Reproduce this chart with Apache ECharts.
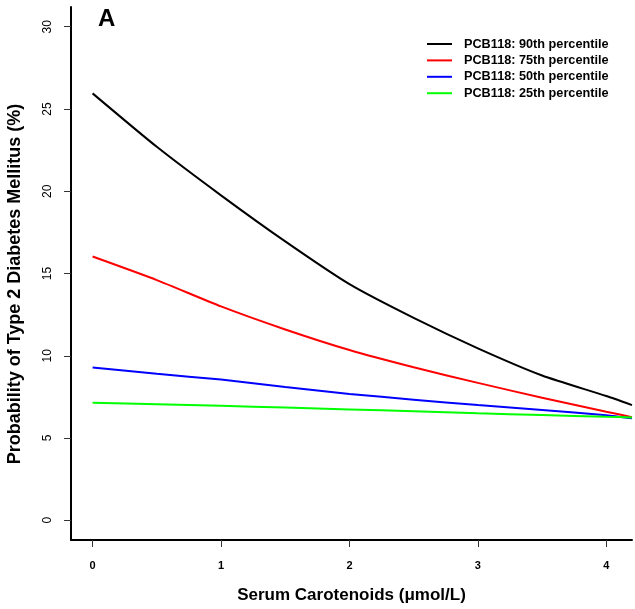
<!DOCTYPE html>
<html>
<head>
<meta charset="utf-8">
<script src="https://cdn.jsdelivr.net/npm/echarts@6/dist/echarts.min.js"></script>
<style>
html,body{margin:0;padding:0;background:#fff;}
#chart{width:635px;height:609px;}
</style>
</head>
<body>
<div id="chart"></div>
<script>
var carotenoids = [0, 0.5, 1, 1.5, 2, 2.5, 3, 3.5, 4, 4.2];
var p90 = [25.95, 22.7, 19.75, 16.95, 14.35, 12.3, 10.45, 8.8, 7.55, 7.0];
var p75 = [16.03, 14.6, 13.0, 11.6, 10.35, 9.3, 8.35, 7.45, 6.6, 6.27];
var p50 = [9.29, 8.9, 8.55, 8.1, 7.68, 7.33, 7.0, 6.7, 6.39, 6.2];
var p25 = [7.14, 7.05, 6.96, 6.85, 6.74, 6.62, 6.5, 6.4, 6.29, 6.25];
var seriesNames = ['PCB118: 90th percentile', 'PCB118: 75th percentile', 'PCB118: 50th percentile', 'PCB118: 25th percentile'];
var seriesColors = ['#000000', '#ff0000', '#0000ff', '#00ff00'];
var xTicks = [0, 1, 2, 3, 4];
var yTicks = [0, 5, 10, 15, 20, 25, 30];
var xTitle = 'Serum Carotenoids (\u03bcmol/L)';
var yTitle = 'Probability of Type 2 Diabetes Mellitus (%)';

var FONT = 'Arial, "Liberation Sans", sans-serif';
function pairs(ys){ return carotenoids.map(function(x,i){ return [x, ys[i]]; }); }
var allY = [p90, p75, p50, p25];

var chart = echarts.init(document.getElementById('chart'), null, {renderer:'canvas'});
chart.setOption({
  animation: false,
  backgroundColor: '#ffffff',
  title: {
    text: 'A', left: 93, top: 2,
    textStyle: {fontFamily: FONT, fontSize: 24, fontWeight: 'bold', color: '#000'}
  },
  legend: {
    orient: 'vertical', left: 422, top: 32,
    itemWidth: 25, itemHeight: 2, itemGap: 2.4, icon: 'rect',
    data: seriesNames,
    textStyle: {fontFamily: FONT, fontSize: 12.7, fontWeight: 'bold', color: '#000', lineHeight: 14, padding: [0,0,0,7]}
  },
  graphic: [{
    type: 'text', x: 15, y: 284, rotation: Math.PI / 2,
    style: {text: yTitle, align: 'center', verticalAlign: 'middle', font: 'bold 18px ' + FONT, fill: '#000'}
  }],
  grid: {left: 71, top: 7, width: 561, height: 533, containLabel: false},
  xAxis: {
    type: 'value', min: -0.168, max: 4.2,
    name: xTitle, nameLocation: 'middle', nameGap: 47,
    nameTextStyle: {fontFamily: FONT, fontSize: 17, fontWeight: 'bold', color: '#000'},
    axisLine: {show: true, onZero: false, lineStyle: {color: '#000', width: 2}},
    axisTick: {show: true, length: 7, customValues: xTicks, lineStyle: {color: '#333', width: 1}},
    axisLabel: {customValues: xTicks, margin: 20, fontFamily: FONT, fontSize: 11, fontWeight: 'bold', color: '#000'},
    splitLine: {show: false}
  },
  yAxis: {
    type: 'value', min: -1.2, max: 31.2,
    axisLine: {show: true, onZero: false, lineStyle: {color: '#000', width: 2}},
    axisTick: {show: true, length: 7, customValues: yTicks, lineStyle: {color: '#333', width: 1}},
    axisLabel: {customValues: yTicks, rotate: 90, margin: 17, fontFamily: FONT, fontSize: 12, color: '#000'},
    splitLine: {show: false}
  },
  series: seriesNames.map(function(n, i){
    return {
      name: n, type: 'line', data: pairs(allY[i]), smooth: 0.2,
      showSymbol: false, symbol: 'none',
      lineStyle: {color: seriesColors[i], width: 2}, itemStyle: {color: seriesColors[i]}
    };
  })
});
</script>
</body>
</html>
